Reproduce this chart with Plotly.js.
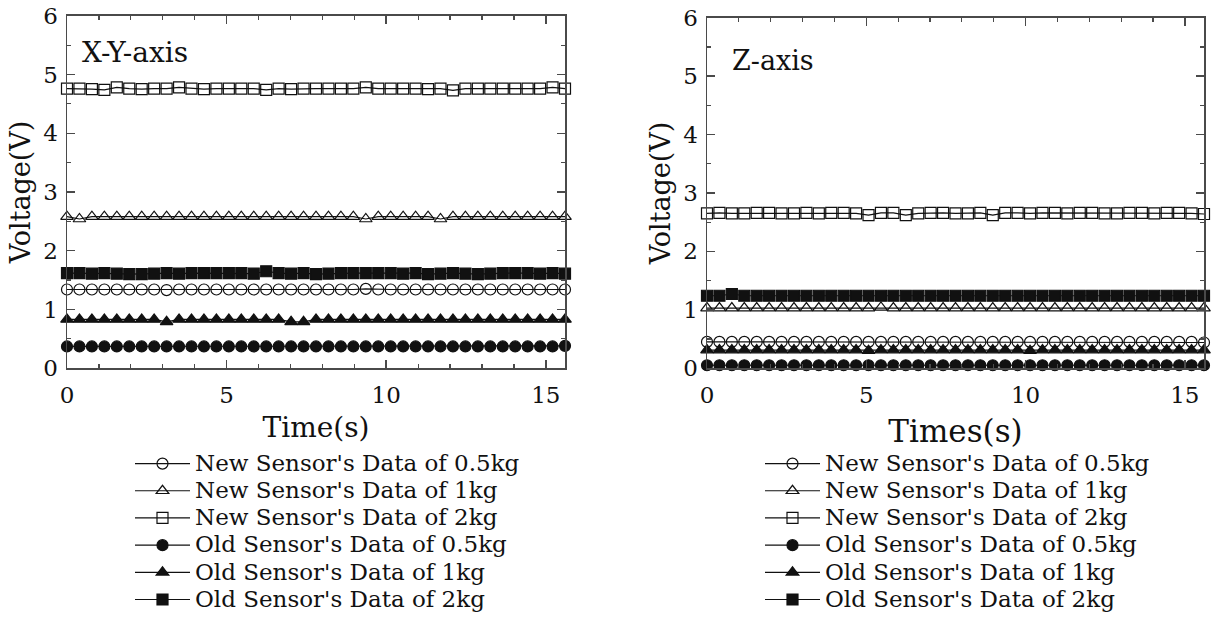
<!DOCTYPE html>
<html>
<head>
<meta charset="utf-8">
<script src="https://cdn.plot.ly/plotly-3.0.1.min.js"></script>
<style>
html,body{margin:0;padding:0;background:#fff;}
#chart{width:1213px;height:619px;}
</style>
</head>
<body>
<div id="chart"></div>
<script>
// Time stamps (s)
const time = [0,0.39,0.78,1.17,1.56,1.95,2.34,2.73,3.12,3.51,3.9,4.29,4.68,5.07,5.46,5.85,6.24,6.63,7.02,7.41,7.8,8.19,8.58,8.97,9.36,9.75,10.14,10.53,10.92,11.31,11.7,12.09,12.48,12.87,13.26,13.65,14.04,14.43,14.82,15.21,15.6];

const seriesNames = ["New Sensor's Data of 0.5kg","New Sensor's Data of 1kg","New Sensor's Data of 2kg","Old Sensor's Data of 0.5kg","Old Sensor's Data of 1kg","Old Sensor's Data of 2kg"];

// X-Y-axis panel (V)
const xyNew05 = [1.34,1.34,1.34,1.34,1.34,1.34,1.34,1.34,1.33,1.34, 1.34,1.34,1.34,1.34,1.34,1.34,1.34,1.34,1.34,1.34, 1.34,1.34,1.34,1.34,1.35,1.34,1.34,1.34,1.34,1.34, 1.34,1.34,1.34,1.34,1.34,1.34,1.34,1.34,1.34,1.34, 1.34];
const xyNew1  = [2.58,2.54,2.58,2.58,2.58,2.58,2.58,2.58,2.58,2.58, 2.58,2.58,2.58,2.58,2.58,2.58,2.58,2.58,2.58,2.58, 2.58,2.58,2.58,2.58,2.54,2.58,2.58,2.58,2.58,2.58, 2.54,2.58,2.58,2.58,2.58,2.58,2.58,2.58,2.58,2.58, 2.58];
const xyNew2  = [4.76,4.76,4.75,4.74,4.78,4.76,4.75,4.76,4.76,4.78, 4.76,4.75,4.76,4.76,4.76,4.76,4.74,4.76,4.75,4.76, 4.76,4.76,4.76,4.76,4.78,4.76,4.76,4.76,4.76,4.75, 4.76,4.73,4.76,4.76,4.76,4.76,4.76,4.76,4.76,4.78, 4.76];
const xyOld05 = [0.37,0.37,0.37,0.37,0.37,0.37,0.37,0.37,0.37,0.37, 0.37,0.37,0.37,0.37,0.37,0.37,0.37,0.37,0.37,0.37, 0.37,0.37,0.37,0.37,0.37,0.37,0.37,0.37,0.37,0.37, 0.37,0.37,0.37,0.37,0.37,0.37,0.37,0.37,0.37,0.37, 0.38];
const xyOld1  = [0.83,0.83,0.83,0.83,0.83,0.83,0.83,0.83,0.79,0.83, 0.83,0.83,0.83,0.83,0.83,0.83,0.83,0.83,0.79,0.79, 0.83,0.83,0.83,0.83,0.83,0.83,0.83,0.83,0.83,0.83, 0.83,0.83,0.83,0.83,0.83,0.83,0.83,0.83,0.83,0.83, 0.83];
const xyOld2  = [1.62,1.62,1.61,1.62,1.61,1.60,1.60,1.61,1.62,1.61, 1.62,1.62,1.62,1.62,1.62,1.61,1.65,1.62,1.61,1.62, 1.60,1.61,1.62,1.62,1.62,1.62,1.62,1.61,1.62,1.60, 1.61,1.62,1.61,1.60,1.61,1.62,1.62,1.62,1.61,1.62, 1.61];

// Z-axis panel (V)
const zNew05 = [0.45,0.45,0.45,0.45,0.45,0.45,0.45,0.45,0.45,0.45, 0.45,0.45,0.45,0.45,0.45,0.45,0.45,0.45,0.45,0.45, 0.45,0.45,0.45,0.45,0.45,0.45,0.45,0.45,0.45,0.45, 0.45,0.45,0.45,0.45,0.45,0.45,0.45,0.45,0.45,0.45, 0.44];
const zNew1  = [1.03,1.03,1.03,1.03,1.03,1.03,1.03,1.03,1.03,1.03, 1.03,1.03,1.03,1.03,1.04,1.03,1.03,1.03,1.03,1.03, 1.03,1.03,1.03,1.03,1.03,1.03,1.03,1.03,1.03,1.03, 1.03,1.03,1.03,1.03,1.03,1.03,1.03,1.03,1.03,1.03, 1.03];
const zNew2  = [2.65,2.66,2.65,2.65,2.66,2.66,2.65,2.65,2.66,2.65, 2.66,2.66,2.65,2.62,2.66,2.66,2.62,2.65,2.66,2.66, 2.65,2.65,2.66,2.62,2.66,2.66,2.65,2.66,2.66,2.65, 2.66,2.66,2.65,2.65,2.66,2.66,2.65,2.66,2.66,2.65, 2.64];
const zOld05 = [0.05,0.05,0.05,0.05,0.05,0.05,0.05,0.05,0.05,0.05, 0.05,0.05,0.05,0.05,0.05,0.05,0.05,0.05,0.05,0.05, 0.05,0.05,0.05,0.05,0.05,0.05,0.05,0.05,0.05,0.05, 0.05,0.05,0.05,0.05,0.05,0.05,0.05,0.05,0.05,0.05, 0.05];
const zOld1  = [0.31,0.31,0.31,0.31,0.31,0.31,0.31,0.31,0.31,0.31, 0.31,0.31,0.31,0.30,0.31,0.31,0.31,0.31,0.31,0.31, 0.31,0.31,0.31,0.31,0.31,0.31,0.30,0.31,0.31,0.31, 0.31,0.31,0.31,0.31,0.31,0.31,0.31,0.31,0.31,0.31, 0.31];
const zOld2  = [1.24,1.24,1.27,1.24,1.24,1.24,1.24,1.24,1.24,1.24, 1.24,1.24,1.24,1.24,1.24,1.24,1.24,1.24,1.24,1.24, 1.24,1.24,1.24,1.24,1.24,1.24,1.24,1.24,1.24,1.24, 1.24,1.24,1.24,1.24,1.24,1.24,1.24,1.24,1.24,1.24, 1.24];

const xyValues = [xyNew05, xyNew1, xyNew2, xyOld05, xyOld1, xyOld2];
const zValues  = [zNew05, zNew1, zNew2, zOld05, zOld1, zOld2];
const symbols = ['circle-open','triangle-up-open','square-open','circle','triangle-up','square'];

const FONT = 'DejaVu Serif';
const INK = '#111';
const AX = '#4a4a4a';

const traces = [];
function addPanel(values, xa, ya, legendId) {
  values.forEach((v, i) => {
    traces.push({
      type: 'scatter', mode: 'lines+markers',
      x: time, y: v, xaxis: xa, yaxis: ya, legend: legendId,
      name: '<span style="font-size:23px">' + seriesNames[i] + '</span>',
      line: {color: INK, width: 1.2},
      marker: {symbol: symbols[i], size: 11, color: INK, line: {color: INK, width: 1.2}},
      cliponaxis: false
    });
  });
}
addPanel(xyValues, 'x', 'y', 'legend');
addPanel(zValues, 'x2', 'y2', 'legend2');

function xAxis(domain, anchor, title, tsize, standoff) {
  return {
    domain: domain, anchor: anchor, range: [0, 15.6], dtick: 5, tick0: 0,
    showline: true, mirror: 'ticks', linecolor: AX, linewidth: 1.5,
    ticks: 'inside', ticklen: 8, tickwidth: 1.5, tickcolor: AX,
    minor: {dtick: 1, ticks: 'inside', ticklen: 4, tickwidth: 1.2, tickcolor: AX},
    showgrid: false, zeroline: false, automargin: false, ticklabelstandoff: 6,
    tickfont: {family: FONT, size: 23, color: INK},
    title: {text: title, font: {family: FONT, size: tsize, color: INK}, standoff: standoff}
  };
}
function yAxis(domain, anchor) {
  return {
    domain: domain, anchor: anchor, range: [0, 6], dtick: 1, tick0: 0,
    showline: true, mirror: 'ticks', linecolor: AX, linewidth: 1.5,
    ticks: 'inside', ticklen: 8, tickwidth: 1.5, tickcolor: AX,
    minor: {dtick: 0.5, ticks: 'inside', ticklen: 4, tickwidth: 1.2, tickcolor: AX},
    showgrid: false, zeroline: false, automargin: false, ticklabelstandoff: 3,
    tickfont: {family: FONT, size: 23, color: INK},
    title: {text: 'Voltage(V)', font: {family: FONT, size: 27, color: INK}, standoff: 5}
  };
}

const legendBase = {
  font: {family: FONT, size: 18.6, color: INK},
  bgcolor: 'rgba(0,0,0,0)', borderwidth: 0,
  xanchor: 'left', yanchor: 'top', itemwidth: 55,
  tracegroupgap: 0, traceorder: 'normal'
};

const layout = {
  width: 1213, height: 619,
  margin: {l: 0, r: 0, t: 0, b: 0},
  paper_bgcolor: '#fff', plot_bgcolor: '#fff',
  showlegend: true,
  font: {family: FONT, color: INK, size: 23},
  xaxis: xAxis([67/1213, 565/1213], 'y', 'Time(s)', 28, 10),
  yaxis: yAxis([1 - 373/619, 1 - 16/619], 'x'),
  xaxis2: xAxis([707/1213, 1204/1213], 'y2', 'Times(s)', 31, 13),
  yaxis2: yAxis([1 - 373/619, 1 - 18/619], 'x2'),
  legend: Object.assign({}, legendBase, {x: 130/1213, y: 1 - 451/619}),
  legend2: Object.assign({}, legendBase, {x: 760/1213, y: 1 - 451/619}),
  annotations: [
    {text: 'X-Y-axis', xref: 'paper', yref: 'paper', x: 80/1213, y: 1 - 53/619, xanchor: 'left', yanchor: 'middle', showarrow: false, font: {family: FONT, size: 28, color: INK}},
    {text: 'Z-axis', xref: 'paper', yref: 'paper', x: 730/1213, y: 1 - 61/619, xanchor: 'left', yanchor: 'middle', showarrow: false, font: {family: FONT, size: 27, color: INK}}
  ]
};

Plotly.newPlot('chart', traces, layout, {displayModeBar: false, staticPlot: true});
</script>
</body>
</html>
